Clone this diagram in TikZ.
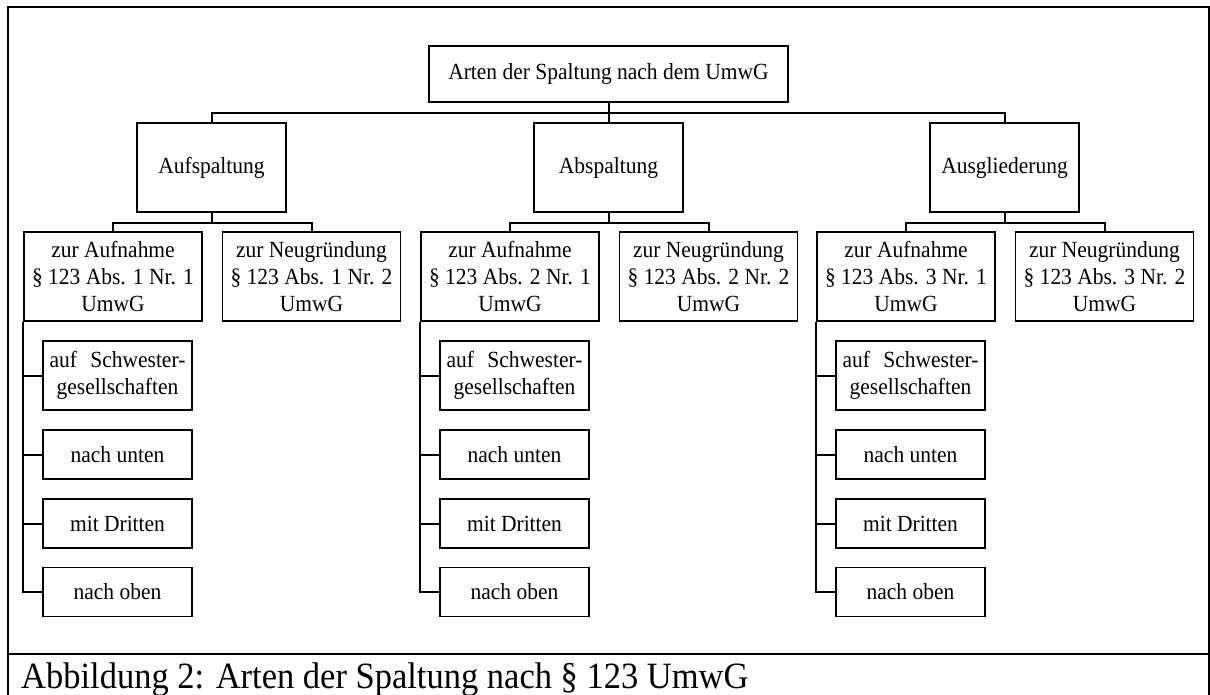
\documentclass[tikz,border=0pt]{standalone}
\usepackage{fontspec}
\setmainfont[FakeStretch=0.93]{Liberation Serif}
\newcommand\boxfont{\fontsize{23.1pt}{26.7pt}\selectfont}
\newcommand\capfont{\fontsize{37.1pt}{40pt}\selectfont}
\tikzset{
  box/.style={draw, line width=1.5pt, inner sep=0pt, align=center, font=\boxfont},
  midbox/.style={box, minimum width=149pt, minimum height=89pt},
  leafbox/.style={box, minimum width=178pt, minimum height=89pt},
  subbox/.style={box, minimum width=149pt, minimum height=49pt},
  conn/.style={line width=2pt},
  frame/.style={line width=1.2pt}
}
\begin{document}
\begin{tikzpicture}[x=1pt,y=-1pt]
\useasboundingbox (0,0) rectangle (1210,695);
\draw[frame] (8,702) -- (8,7) -- (1209,7) -- (1209,702);
\draw[frame] (8,654) -- (1209,654);
\node[box, minimum width=359pt, minimum height=56pt] (top) at (608.5,74) {Arten der Spaltung nach dem UmwG};
\coordinate (bus) at (608.5,113);
\foreach \g/\c/\t in {1/211.5/Aufspaltung, 2/608.5/Abspaltung, 3/1004.5/Ausgliederung} {
  \node[midbox] (m\g) at (\c,167.5) {\t};
  \node[leafbox] (a\g) at (\c-98.5,276.5) {zur Aufnahme\\§ 123 Abs. \g{} Nr. 1\\UmwG};
  \node[leafbox] (n\g) at (\c+100,276.5) {zur Neugründung\\§ 123 Abs. \g{} Nr. 2\\UmwG};
  \node[subbox, minimum height=69pt] (sa\g) at (\c-94,375.5) {auf\hspace{0.58em}Schwester-\\gesellschaften};
  \node[subbox] (sb\g) at (\c-94,454.5) {nach unten};
  \node[subbox] (sc\g) at (\c-94,523.5) {mit Dritten};
  \node[subbox] (sd\g) at (\c-94,592) {nach oben};
  \draw[conn] (m\g.south) -- ++(0,10) coordinate (j\g);
  \draw[conn] (a\g.north) |- (j\g) -| (n\g.north);
  \draw[conn] (a\g.south west) |- (sd\g.west);
  \draw[conn] (a\g.south west |- sa\g.west) -- (sa\g.west);
  \draw[conn] (a\g.south west |- sb\g.west) -- (sb\g.west);
  \draw[conn] (a\g.south west |- sc\g.west) -- (sc\g.west);
}
\draw[conn] (m1.north) |- (bus) -| (m3.north);
\draw[conn] (top.south) -- (m2.north);
\node[anchor=base west, inner sep=0pt, font=\capfont] (cap) at (21,688) {Abbildung 2: Arten der Spaltung nach § 123 UmwG};
\end{tikzpicture}
\end{document}
